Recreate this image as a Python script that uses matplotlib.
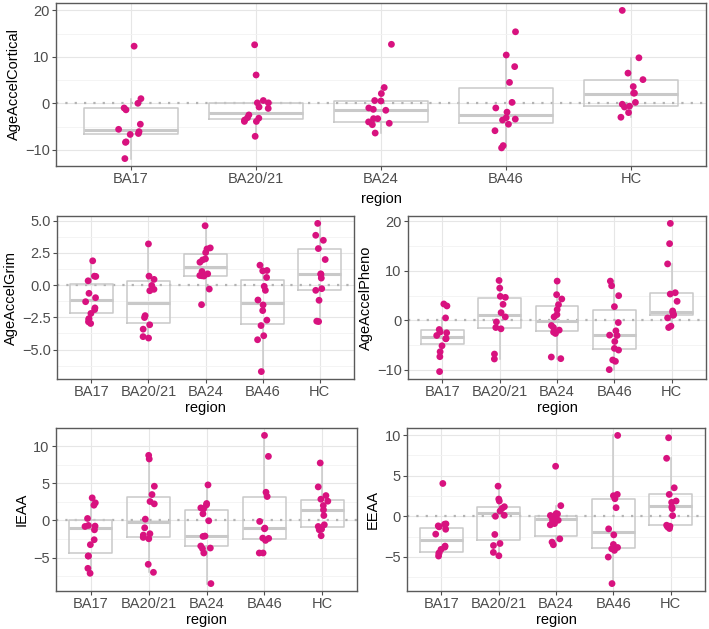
import matplotlib.pyplot as plt
import numpy as np

plt.rcParams["font.family"] = ["Liberation Sans", "DejaVu Sans"]
plt.rcParams["font.size"] = 10.5

regions = ["BA17", "BA20/21", "BA24", "BA46", "HC"]

# points per region
cortical = [
    [12.3, 1.0, 0.0, -1.0, -1.4, -4.5, -5.6, -6.1, -6.5, -6.7, -8.3, -8.4, -11.9],
    [12.6, 6.1, 0.1, 0.1, 0.6, -0.8, -1.1, -2.5, -3.1, -3.2, -3.6, -3.9, -3.9, -7.1],
    [12.7, 3.4, 2.1, 0.5, 0.6, -1.0, -1.3, -1.5, -3.3, -3.3, -4.0, -4.3, -4.6, -6.4],
    [15.4, 10.4, 7.9, 4.5, 0.2, -1.0, -1.9, -3.1, -3.4, -3.6, -4.5, -5.9, -9.1, -9.6],
    [20.0, 9.8, 6.5, 5.1, 3.6, 2.2, 2.2, 0.2, -0.2, -0.6, -0.8, -2.0, -3.0],
]
grim = [
    [1.88, 0.67, 0.69, 0.33, -0.64, -0.98, -1.29, -1.77, -1.9, -2.2, -2.6, -2.65, -2.85, -2.98],
    [3.19, 0.69, 0.44, -0.03, -0.44, -0.33, -2.37, -2.52, -3.08, -3.42, -4.0, -4.11],
    [4.6, 2.88, 2.8, 2.52, 2.03, 1.95, 1.77, 1.05, 0.87, 0.72, 0.7, 0.74, -0.31, -1.52],
    [1.54, 1.13, 1.1, 0.59, -0.1, -0.41, -1.16, -1.54, -1.98, -2.72, -3.14, -3.93, -4.24, -6.71],
    [4.78, 3.86, 3.47, 2.83, 1.98, 0.87, 0.82, 0.54, -0.28, -0.41, -1.18, -2.8, -2.83],
]
pheno = [
    [3.29, 2.89, 0.47, -1.88, -2.4, -2.55, -3.09, -3.7, -3.76, -5.17, -6.38, -7.38, -10.4],
    [8.05, 6.5, 4.83, 4.63, 3.22, 1.54, 0.67, -0.34, -1.48, -1.74, -6.85, -7.85],
    [7.92, 5.17, 4.3, 3.15, 2.15, 1.14, 0.67, -1.07, -1.48, -2.0, -2.42, -2.68, -7.45, -7.78],
    [7.92, 6.98, 4.97, 2.75, -0.47, -2.15, -3.09, -3.02, -4.3, -5.7, -6.04, -8.05, -8.32, -10.0],
    [19.6, 15.5, 11.4, 5.57, 5.3, 3.83, 1.88, 1.54, 1.0, 1.14, 0.47, -1.2, -1.48],
]
ieaa = [
    [3.05, 2.38, 2.06, 0.27, -0.67, -0.76, -0.81, -1.26, -2.6, -3.27, -4.8, -4.8, -6.46, -7.13],
    [8.79, 8.3, 4.62, 3.5, 2.56, 2.24, 0.18, -0.99, -1.79, -1.97, -2.29, -2.47, -5.92, -7.0],
    [4.8, 2.29, 2.1, 1.57, 1.7, 0.9, -0.04, -2.15, -2.1, -3.45, -3.72, -3.8, -4.39, -8.52],
    [11.48, 8.65, 3.81, 3.23, -0.13, -1.03, -1.12, -2.42, -2.38, -2.69, -4.39, -4.39],
    [7.76, 4.53, 3.36, 2.87, 2.6, 2.02, 1.43, 0.67, -0.58, -0.81, -1.17, -1.26, -2.06],
]
eeaa = [
    [4.04, -0.94, -0.98, -1.18, -1.3, -1.6, -2.2, -3.67, -3.8, -4.08, -4.49, -4.6, -4.9],
    [3.71, 2.12, 1.88, 1.18, 0.98, 0.65, 0.12, 0.0, -2.24, -3.35, -3.6, -4.45, -4.86],
    [6.16, 1.31, 0.29, 0.33, 0.04, -0.2, 0.1, -0.33, -0.49, -0.69, -0.9, -1.06, -2.78, -3.18, -3.51],
    [9.96, 2.53, 2.69, 2.16, 1.06, -1.55, -2.29, -3.47, -3.84, -4.0, -4.2, -5.02, -8.29],
    [9.67, 7.14, 3.51, 2.69, 1.88, 1.71, 1.14, 0.94, 0.08, -1.1, -1.22, -1.31, -1.51],
]

# box stats per region: (lower whisker, q1, median, q3, upper whisker)
cortical_box = [(-11.9, -6.6, -5.7, -1.1, 1.0), (-7.1, -3.3, -2.0, 0.1, 0.6),
                (-6.4, -4.0, -1.4, 0.6, 3.4), (-9.6, -4.3, -2.5, 3.4, 10.4),
                (-3.0, -0.6, 2.1, 5.0, 9.8)]
grim_box = [(-2.98, -2.13, -1.13, 0.05, 1.88), (-4.11, -2.98, -1.39, 0.31, 3.19),
            (-1.52, 0.67, 1.41, 2.37, 4.6), (-6.71, -3.03, -1.39, 0.39, 1.54),
            (-2.83, -0.41, 0.87, 2.78, 4.78)]
pheno_box = [(-7.38, -4.83, -3.42, -2.08, 0.47), (-7.85, -1.48, 1.14, 4.56, 8.05),
             (-7.78, -2.15, -0.2, 2.89, 7.92), (-10.0, -5.9, -2.95, 2.01, 7.92),
             (-1.48, 1.0, 1.68, 5.57, 11.4)]
ieaa_box = [(-7.13, -4.44, -1.03, 0.0, 3.05), (-7.0, -2.2, -0.18, 3.23, 8.79),
            (-8.52, -3.5, -2.06, 1.39, 4.8), (-4.39, -2.51, -1.03, 3.23, 11.48),
            (-2.06, -0.9, 1.48, 2.78, 7.76)]
eeaa_box = [(-4.9, -4.45, -2.98, -1.47, -0.94), (-4.86, -2.94, 0.41, 1.18, 3.71),
            (-3.51, -2.37, -0.37, 0.0, 1.31), (-8.29, -3.96, -1.92, 2.08, 9.96),
            (-1.51, -1.06, 1.31, 2.69, 7.14)]

W, H = 709, 629
fig = plt.figure(figsize=(W / 100, H / 100), dpi=100)


def panel(rect, label, points, boxes, yticks, fmt, xlabelpad=1):
    l, t, r, b = rect
    ax = fig.add_axes([l / W, 1 - b / H, (r - l) / W, (b - t) / H])
    pos = np.arange(1, len(regions) + 1)
    stats = [dict(whislo=s[0], q1=s[1], med=s[2], q3=s[3], whishi=s[4]) for s in boxes]
    grey = "#c9c9c9"
    ax.bxp(stats, positions=pos, widths=0.75, showfliers=False, showcaps=False,
           boxprops=dict(color=grey, lw=1.1),
           whiskerprops=dict(color=grey, lw=1.1),
           medianprops=dict(color=grey, lw=2.2), zorder=3)
    ax.axhline(0, color="#b3b3b3", lw=1.6, ls=(0, (1, 3.2)), zorder=2)
    rng = np.random.default_rng(7)
    for i, vals in enumerate(points):
        x = pos[i] + rng.uniform(-0.1, 0.1, len(vals))
        ax.scatter(x, vals, s=24, color="#d8127f", edgecolors="none", zorder=4)
    allv = np.concatenate([np.asarray(v) for v in points])
    lo, hi = allv.min(), allv.max()
    pad = (hi - lo) * 0.05
    ax.set_xlim(0.4, len(regions) + 0.6)
    ax.set_xticks(pos, regions)
    ax.set_yticks(yticks, [fmt.format(v).replace("-", "\u2212") for v in yticks])
    step = yticks[1] - yticks[0]
    minor = np.arange(yticks[0] - step / 2, yticks[-1] + step, step)
    ax.set_yticks(minor, minor=True)
    ax.set_ylim(lo - pad, hi + pad)
    ax.tick_params(which="minor", length=0)
    ax.tick_params(which="major", length=3, width=0.8, color="#4d4d4d",
                   labelcolor="#4d4d4d", labelsize=10.5, pad=1.5)
    ax.grid(True, which="major", color="#e6e6e6", lw=0.8)
    ax.grid(True, which="minor", axis="y", color="#f2f2f2", lw=0.6)
    ax.set_axisbelow(True)
    for sp in ax.spines.values():
        sp.set_color("#5a5a5a")
        sp.set_linewidth(1.0)
    ax.set_xlabel("region", fontsize=10.5, labelpad=xlabelpad)
    ax.set_ylabel(label, fontsize=10.5, labelpad=3)
    return ax


panel((56, 3, 706, 166), "AgeAccelCortical", cortical, cortical_box, [-10, 0, 10, 20], "{:g}",
      xlabelpad=4)
panel((57, 216, 354, 379), "AgeAccelGrim", grim, grim_box, [-5.0, -2.5, 0.0, 2.5, 5.0], "{:.1f}")
panel((408, 216, 706, 379), "AgeAccelPheno", pheno, pheno_box, [-10, 0, 10, 20], "{:g}")
panel((56, 428, 357, 591), "IEAA", ieaa, ieaa_box, [-5, 0, 5, 10], "{:g}")
panel((407, 428, 705, 591), "EEAA", eeaa, eeaa_box, [-5, 0, 5, 10], "{:g}")

fig.savefig("out.png", dpi=100)
